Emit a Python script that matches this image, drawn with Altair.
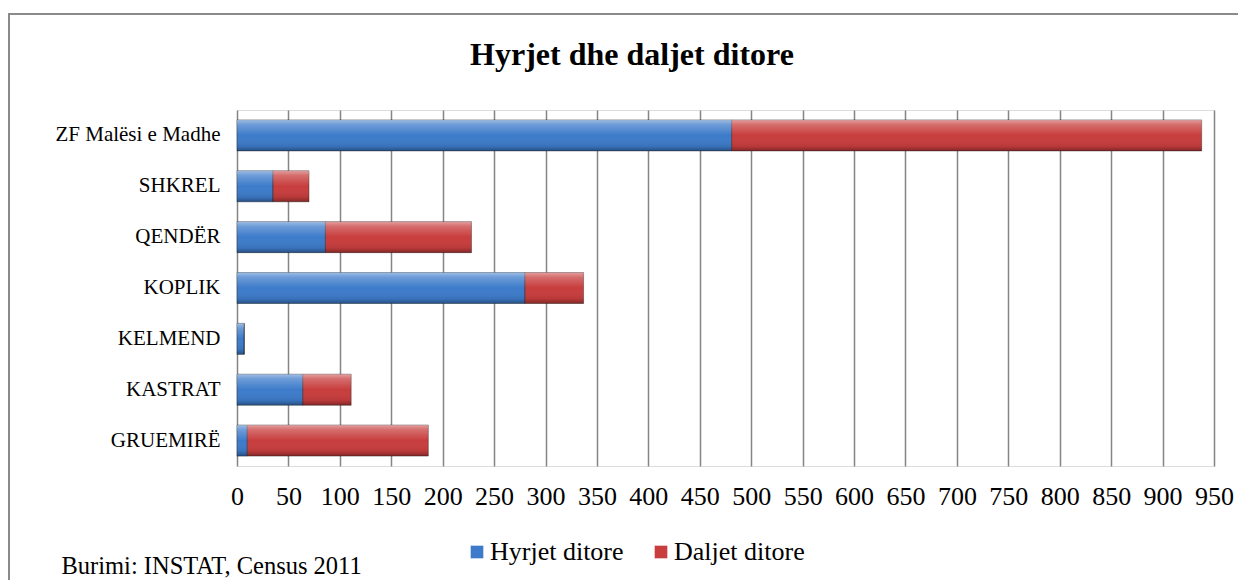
import altair as alt
import pandas as pd

categories = ["ZF Malësi e Madhe", "SHKREL", "QENDËR", "KOPLIK", "KELMEND", "KASTRAT", "GRUEMIRË"]
hyrjet = [481, 35, 86, 280, 7, 64, 10]
daljet = [457, 35, 142, 57, 0, 47, 176]
series_names = ["Hyrjet ditore", "Daljet ditore"]
x_ticks = list(range(0, 951, 50))
chart_title = "Hyrjet dhe daljet ditore"
source_note = "Burimi: INSTAT, Census 2011"

rows = []
for c, h, d in zip(categories, hyrjet, daljet):
    rows.append({"category": c, "series": series_names[0], "value": h, "order": 0})
    rows.append({"category": c, "series": series_names[1], "value": d, "order": 1})
df = pd.DataFrame(rows)

FONT = "Liberation Serif"
W, H = 977, 356

base = alt.Chart(df).transform_stack(
    stack="value", groupby=["category"], as_=["x0", "x1"],
    sort=[alt.SortField("order", order="ascending")]
)

yenc = alt.Y("category:N", sort=categories, title=None,
             scale=alt.Scale(paddingInner=0.39, paddingOuter=0.195),
             axis=alt.Axis(labelFont=FONT, labelFontSize=21, labelColor="#000000",
                           labelPadding=17, ticks=False, domain=False, grid=False))

xenc = alt.X("x0:Q", scale=alt.Scale(domain=[0, 950], nice=False),
             title=source_note,
             axis=alt.Axis(values=x_ticks, grid=True, gridColor="#858585", gridWidth=1.5,
                           ticks=False, domain=False, labelFont=FONT, labelFontSize=26,
                           labelColor="#000000", labelPadding=17, labelFlush=False,
                           titleFont=FONT, titleFontSize=24.5, titleFontWeight="normal",
                           titleColor="#000000", titleAnchor="start", titleAlign="left",
                           titleBaseline="alphabetic", titleX=-176, titleY=107))

bars = base.mark_bar(stroke="#1a1a1a", strokeOpacity=0.4, strokeWidth=1).encode(
    y=yenc,
    x=xenc,
    x2="x1:Q",
    color=alt.Color("series:N", sort=series_names,
                    scale=alt.Scale(domain=series_names, range=["#3d7bca", "#c83d3d"]),
                    legend=alt.Legend(title=None, orient="none", direction="horizontal",
                                      legendX=227, legendY=429, symbolType="square",
                                      symbolSize=160, symbolStrokeWidth=0,
                                      labelFont=FONT, labelFontSize=26, labelColor="#000000",
                                      labelOffset=0, columnPadding=24, padding=0)),
)

shade = base.mark_bar(
    fill=alt.Gradient(
        gradient="linear", x1=0, y1=0, x2=0, y2=1,
        stops=[
            alt.GradientStop(offset=0, color="rgba(255,255,255,0.5)"),
            alt.GradientStop(offset=0.15, color="rgba(255,255,255,0.25)"),
            alt.GradientStop(offset=0.5, color="rgba(255,255,255,0.0)"),
            alt.GradientStop(offset=0.85, color="rgba(0,0,0,0.08)"),
            alt.GradientStop(offset=1, color="rgba(0,0,0,0.35)"),
        ],
    )
).encode(
    y=alt.Y("category:N", sort=categories),
    x="x0:Q",
    x2="x1:Q",
)

one = pd.DataFrame({"k": [0]})

frame = alt.Chart(one).mark_rect(
    fill=None, stroke="#8a8a8a", strokeWidth=2
).encode(
    x=alt.value(-228), x2=alt.value(W + 60),
    y=alt.value(-96), y2=alt.value(H + 260),
)

title = alt.Chart(one).mark_text(
    font=FONT, fontSize=32, fontWeight="bold", color="#000000",
    align="center", baseline="alphabetic"
).encode(
    x=alt.value(395), y=alt.value(-45), text=alt.value(chart_title)
)

chart = alt.layer(frame, bars, shade, title).properties(
    width=W, height=H,
    padding={"left": 229, "top": 102, "right": 24, "bottom": 114},
    autosize=alt.AutoSizeParams(type="none"),
).configure_view(stroke=None).configure(background="#ffffff", font=FONT)

chart.save("out.html", embed_options={"renderer": "svg", "actions": False})
